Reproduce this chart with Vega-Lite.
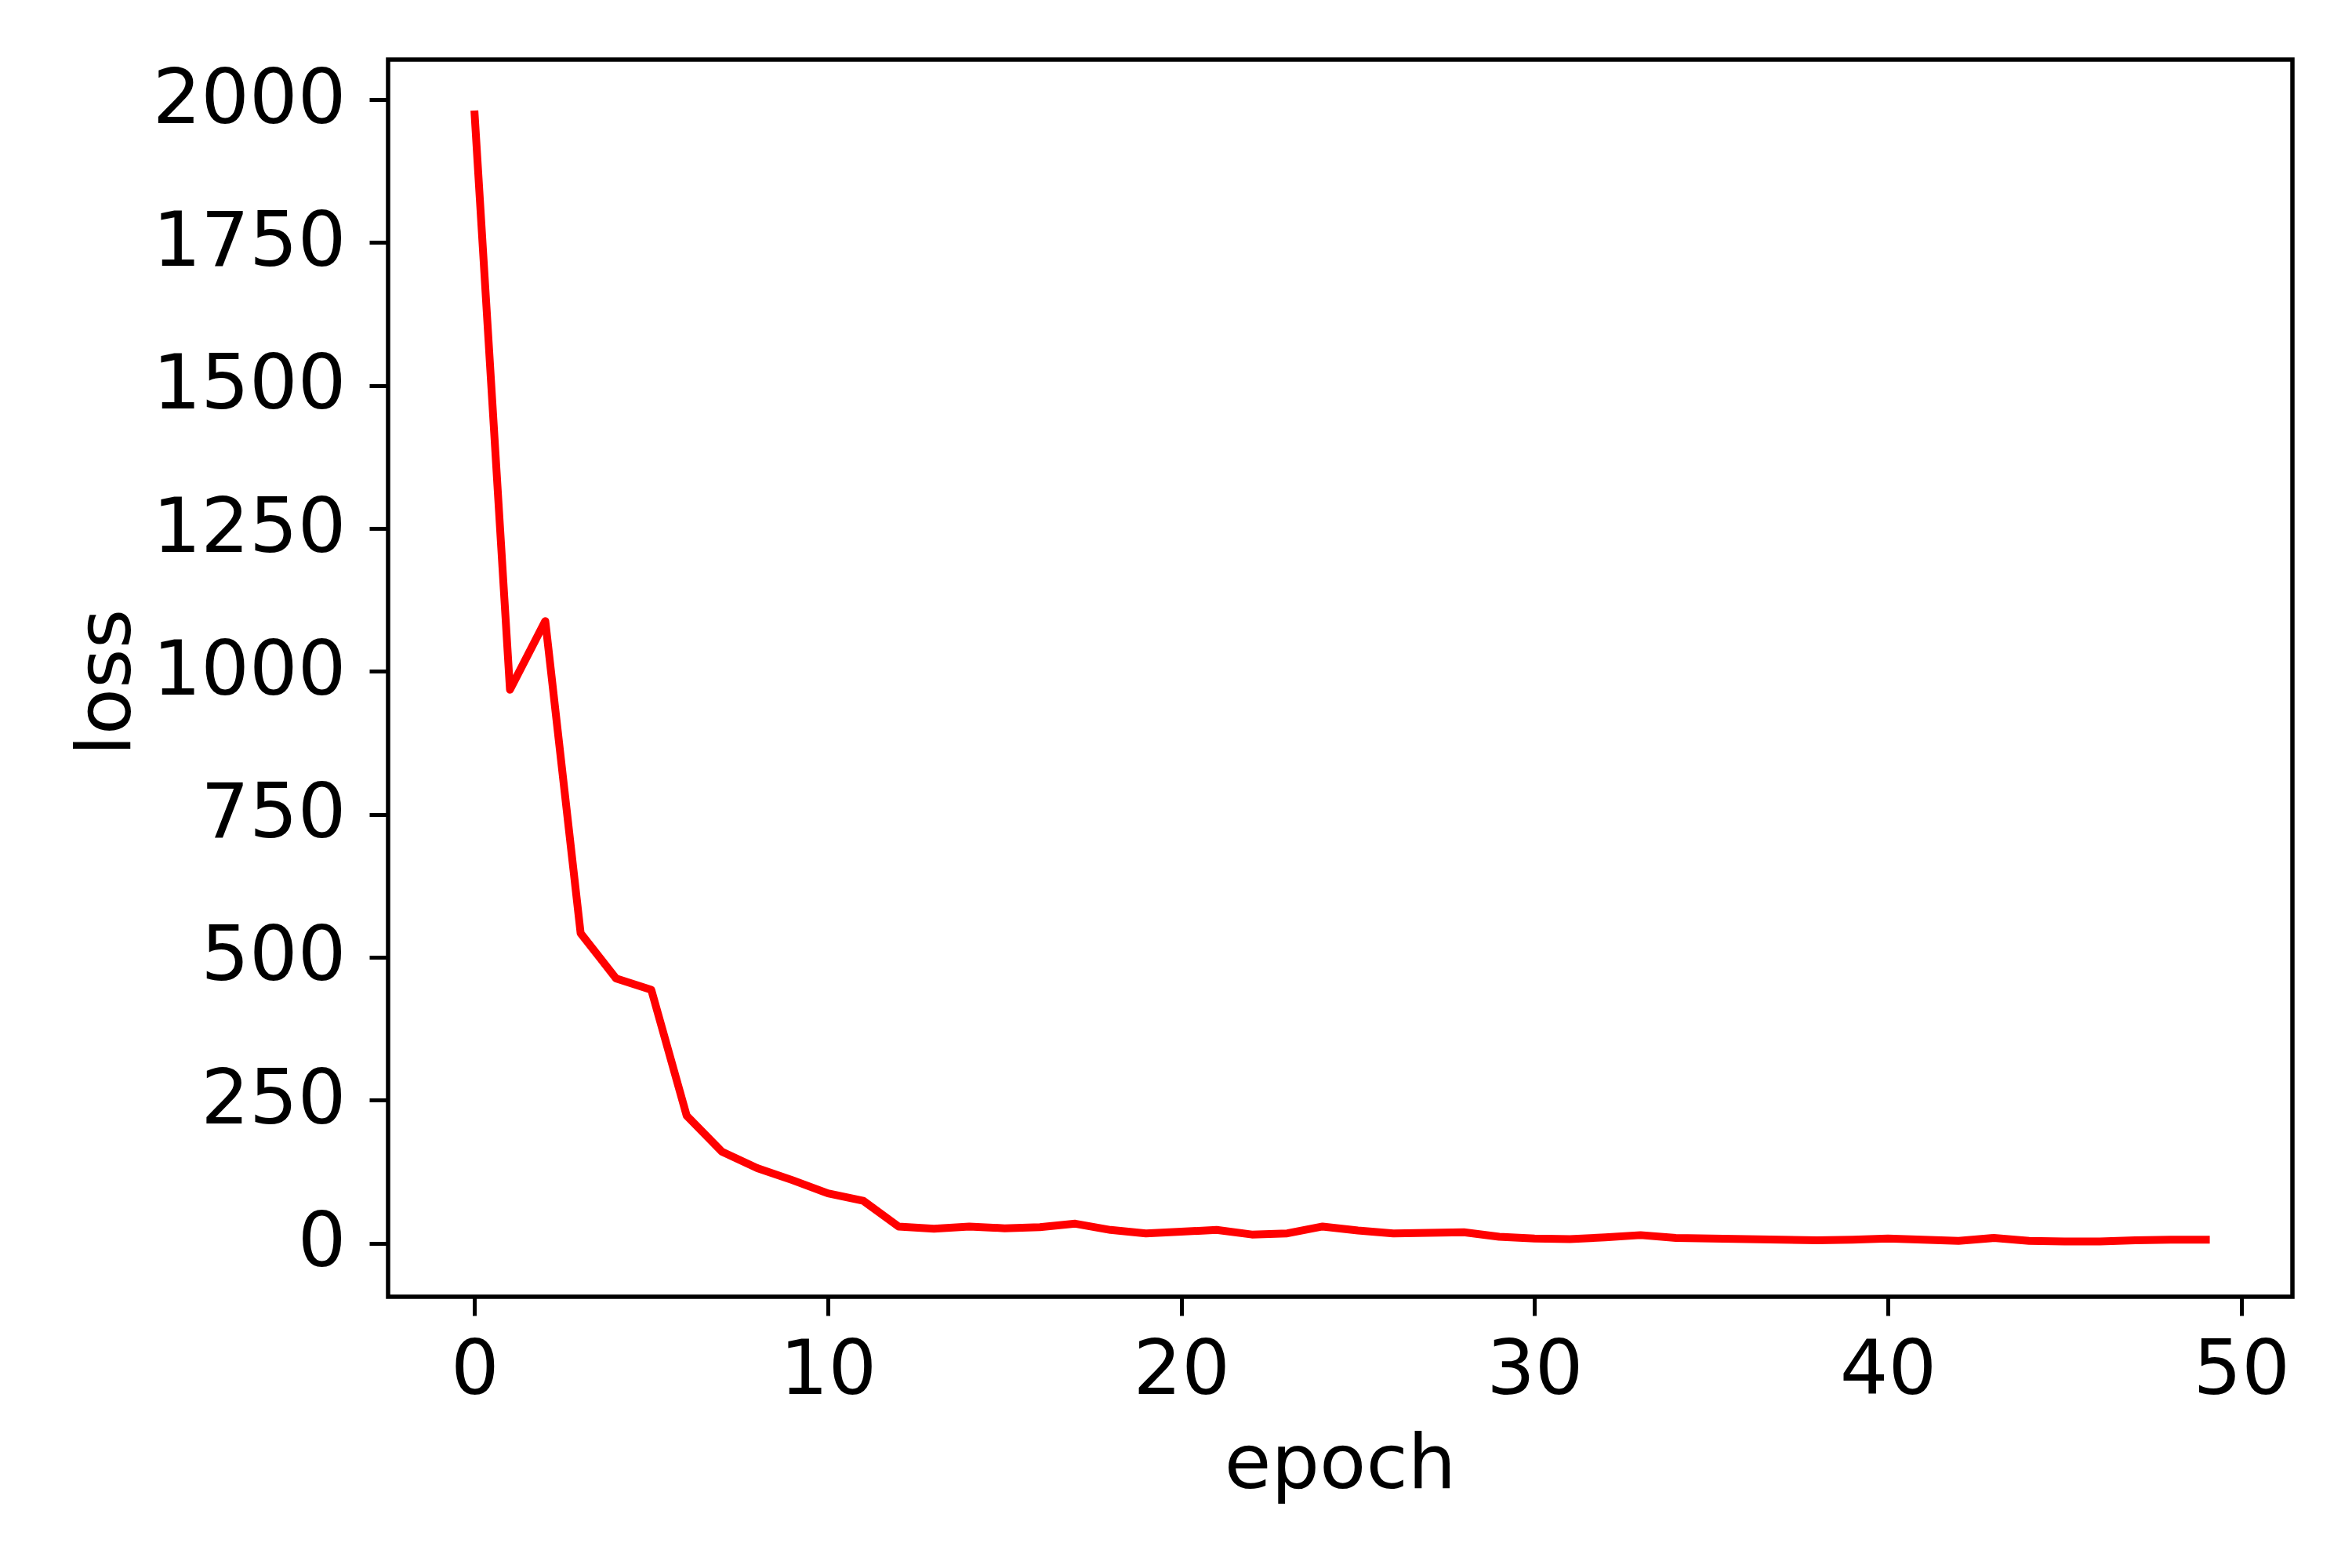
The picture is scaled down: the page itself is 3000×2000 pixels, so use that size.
{
  "$schema": "https://vega.github.io/schema/vega-lite/v6.json",
  "autosize": "none",
  "width": 2429,
  "height": 1578,
  "padding": {"left": 495, "top": 76, "right": 76, "bottom": 346},
  "background": "white",
  "config": {
    "view": {"stroke": "black", "strokeWidth": 5.5},
    "axis": {
      "domain": false,
      "grid": false,
      "ticks": true,
      "tickColor": "black",
      "tickWidth": 5,
      "tickSize": 24,
      "labelFont": "DejaVu Sans",
      "labelFontSize": 97,
      "labelColor": "black",
      "labelLimit": 1000,
      "titleFont": "DejaVu Sans",
      "titleFontSize": 97,
      "titleFontWeight": "normal",
      "titleColor": "black",
      "titleLimit": 2000
    }
  },
  "data": {
    "values": [
      {"epoch": 0, "loss": 1974},
      {"epoch": 1, "loss": 968},
      {"epoch": 2, "loss": 1088},
      {"epoch": 3, "loss": 542},
      {"epoch": 4, "loss": 463},
      {"epoch": 5, "loss": 443},
      {"epoch": 6, "loss": 223},
      {"epoch": 7, "loss": 160},
      {"epoch": 8, "loss": 131},
      {"epoch": 9, "loss": 110},
      {"epoch": 10, "loss": 87},
      {"epoch": 11, "loss": 74},
      {"epoch": 12, "loss": 29},
      {"epoch": 13, "loss": 25},
      {"epoch": 14, "loss": 29},
      {"epoch": 15, "loss": 26},
      {"epoch": 16, "loss": 28},
      {"epoch": 17, "loss": 34},
      {"epoch": 18, "loss": 23},
      {"epoch": 19, "loss": 17},
      {"epoch": 20, "loss": 20},
      {"epoch": 21, "loss": 23},
      {"epoch": 22, "loss": 15},
      {"epoch": 23, "loss": 17},
      {"epoch": 24, "loss": 29},
      {"epoch": 25, "loss": 22},
      {"epoch": 26, "loss": 17},
      {"epoch": 27, "loss": 18},
      {"epoch": 28, "loss": 19},
      {"epoch": 29, "loss": 11},
      {"epoch": 30, "loss": 8},
      {"epoch": 31, "loss": 7},
      {"epoch": 32, "loss": 10},
      {"epoch": 33, "loss": 14},
      {"epoch": 34, "loss": 9},
      {"epoch": 35, "loss": 8},
      {"epoch": 36, "loss": 7},
      {"epoch": 37, "loss": 6},
      {"epoch": 38, "loss": 5},
      {"epoch": 39, "loss": 6},
      {"epoch": 40, "loss": 8},
      {"epoch": 41, "loss": 6},
      {"epoch": 42, "loss": 4},
      {"epoch": 43, "loss": 9},
      {"epoch": 44, "loss": 4},
      {"epoch": 45, "loss": 3},
      {"epoch": 46, "loss": 3},
      {"epoch": 47, "loss": 5},
      {"epoch": 48, "loss": 6},
      {"epoch": 49, "loss": 6}
    ]
  },
  "mark": {"type": "line", "color": "#ff0000", "strokeWidth": 10, "strokeCap": "square", "strokeJoin": "round", "clip": true},
  "encoding": {
    "x": {
      "field": "epoch",
      "type": "quantitative",
      "scale": {"domain": [-2.45, 51.45], "nice": false, "zero": false},
      "axis": {
        "title": "epoch",
        "format": "d",
        "values": [0, 10, 20, 30, 40, 50],
        "labelBaseline": "alphabetic",
        "labelPadding": 99,
        "labelFlush": false,
        "labelOverlap": false,
        "titleX": 1214,
        "titleY": 243,
        "titleBaseline": "alphabetic",
        "titleAlign": "center",
        "titleAnchor": null
      }
    },
    "y": {
      "field": "loss",
      "type": "quantitative",
      "scale": {"domain": [-93.8, 2070], "nice": false, "zero": false},
      "axis": {
        "title": "loss",
        "format": "d",
        "values": [0, 250, 500, 750, 1000, 1250, 1500, 1750, 2000],
        "labelPadding": 30,
        "labelBaseline": "middle",
        "labelFlush": false,
        "labelOverlap": false,
        "titleAngle": -90,
        "titleX": -330,
        "titleY": 794,
        "titleBaseline": "alphabetic",
        "titleAlign": "center"
      }
    }
  }
}
